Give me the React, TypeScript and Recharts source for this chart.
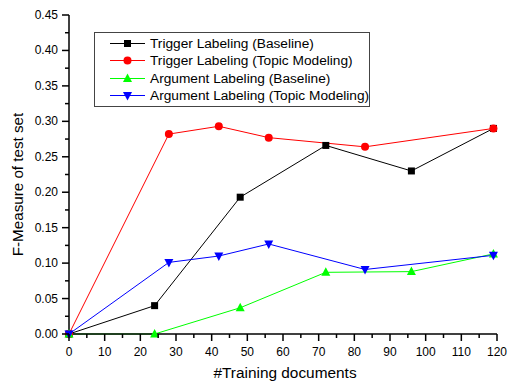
import React from "react";
import { LineChart, Line, XAxis, YAxis } from "recharts";

const baselineDocs = [0, 24, 48, 72, 96, 119];
const topicDocs = [0, 28, 42, 56, 83, 119];
const triggerBaseline = [0, 0.04, 0.193, 0.266, 0.23, 0.29];
const triggerTopic = [0, 0.282, 0.293, 0.277, 0.264, 0.29];
const argumentBaseline = [0, 0, 0.037, 0.087, 0.088, 0.113];
const argumentTopic = [0, 0.101, 0.11, 0.127, 0.091, 0.111];

const xTicks = [0, 5, 10, 15, 20, 25, 30, 35, 40, 45, 50, 55, 60, 65, 70, 75, 80, 85, 90, 95, 100, 105, 110, 115, 120];
const yTicks = [0, 0.025, 0.05, 0.075, 0.1, 0.125, 0.15, 0.175, 0.2, 0.225, 0.25, 0.275, 0.3, 0.325, 0.35, 0.375, 0.4, 0.425, 0.45];

const FONT = "'Liberation Sans', Arial, sans-serif";

const toPoints = (xs: number[], ys: number[]) => xs.map((x, i) => ({ x, y: ys[i] }));

type Shape = "square" | "circle" | "up" | "down";

const series: { name: string; color: string; shape: Shape; data: { x: number; y: number }[] }[] = [
  { name: "Trigger Labeling (Baseline)", color: "#000000", shape: "square", data: toPoints(baselineDocs, triggerBaseline) },
  { name: "Trigger Labeling (Topic Modeling)", color: "#ff0000", shape: "circle", data: toPoints(topicDocs, triggerTopic) },
  { name: "Argument Labeling (Baseline)", color: "#00ff00", shape: "up", data: toPoints(baselineDocs, argumentBaseline) },
  { name: "Argument Labeling (Topic Modeling)", color: "#0000ff", shape: "down", data: toPoints(topicDocs, argumentTopic) },
];

function marker(shape: Shape, cx: number, cy: number, color: string, key?: any) {
  if (shape === "square") return <rect key={key} x={cx - 3.5} y={cy - 3.5} width={7} height={7} fill={color} />;
  if (shape === "circle") return <circle key={key} cx={cx} cy={cy} r={4} fill={color} />;
  if (shape === "up")
    return <polygon key={key} points={`${cx},${cy - 5} ${cx - 4.5},${cy + 3.5} ${cx + 4.5},${cy + 3.5}`} fill={color} />;
  return <polygon key={key} points={`${cx},${cy + 5} ${cx - 4.5},${cy - 3.5} ${cx + 4.5},${cy - 3.5}`} fill={color} />;
}

const XTick = (props: any) => {
  const { x, y, payload } = props;
  const v = payload.value;
  const major = Math.round(v) % 10 === 0;
  return (
    <g>
      <line x1={x} y1={y} x2={x} y2={y + (major ? 7 : 4)} stroke="#000" strokeWidth={1.5} />
      {major && (
        <text x={x} y={y + 22} textAnchor="middle" fontSize={12} fontFamily={FONT} fill="#000">
          {v}
        </text>
      )}
    </g>
  );
};

const YTick = (props: any) => {
  const { x, y, payload } = props;
  const v = payload.value;
  const major = Math.round(v * 1000) % 50 === 0;
  return (
    <g>
      <line x1={x} y1={y} x2={x - (major ? 7 : 4)} y2={y} stroke="#000" strokeWidth={1.5} />
      {major && (
        <text x={x - 11} y={y + 4} textAnchor="end" fontSize={12} fontFamily={FONT} fill="#000">
          {v.toFixed(2)}
        </text>
      )}
    </g>
  );
};

const LegendBox = () => (
  <div
    style={{
      position: "absolute",
      left: 94,
      top: 32,
      width: 276,
      height: 75,
      boxSizing: "border-box",
      border: "1px solid #444",
      background: "#fff",
      paddingTop: 2,
      paddingLeft: 15,
      fontFamily: FONT,
      fontSize: 13.7,
      color: "#000",
      whiteSpace: "nowrap",
    }}
  >
    {series.map((s) => (
      <div key={s.name} style={{ height: 17.3, display: "flex", alignItems: "center" }}>
        <svg width={35} height={17} style={{ flex: "none" }}>
          <line x1={0} y1={8.5} x2={35} y2={8.5} stroke={s.color} strokeWidth={1} />
          {marker(s.shape, 17.5, 8.5, s.color)}
        </svg>
        <span style={{ marginLeft: 5, lineHeight: "17px" }}>{s.name}</span>
      </div>
    ))}
  </div>
);

export default function App() {
  return (
    <div style={{ position: "absolute", left: 0, top: 0, width: 511, height: 381, background: "#fff" }}>
      <LineChart width={511} height={381} margin={{ top: 15, right: 14, bottom: 0, left: 0 }}>
        <XAxis
          type="number"
          dataKey="x"
          domain={[0, 120]}
          ticks={xTicks}
          interval={0}
          height={47}
          tickSize={0}
          tickMargin={0}
          tickLine={false}
          tick={<XTick />}
          axisLine={{ stroke: "#000", strokeWidth: 1.5 }}
          allowDuplicatedCategory={false}
          label={{
            content: (p: any) => {
              const vb = p.viewBox;
              return (
                <text x={vb.x + vb.width / 2 + 2} y={vb.y + 44} textAnchor="middle" fontSize={15.4} fontFamily={FONT} fill="#000">
                  #Training documents
                </text>
              );
            },
          }}
        />
        <YAxis
          type="number"
          dataKey="y"
          domain={[0, 0.45]}
          ticks={yTicks}
          interval={0}
          width={69}
          tickSize={0}
          tickMargin={0}
          tickLine={false}
          tick={<YTick />}
          axisLine={{ stroke: "#000", strokeWidth: 1.5 }}
          label={{
            content: (p: any) => {
              const vb = p.viewBox;
              const cx = 23;
              const cy = vb.y + vb.height / 2 + 10;
              return (
                <text x={cx} y={cy} transform={`rotate(-90 ${cx} ${cy})`} textAnchor="middle" fontSize={15.2} fontFamily={FONT} fill="#000">
                  F-Measure of test set
                </text>
              );
            },
          }}
        />
        {series.map((s) => (
          <Line
            key={s.name}
            name={s.name}
            data={s.data}
            dataKey="y"
            type="linear"
            stroke={s.color}
            strokeWidth={1}
            isAnimationActive={false}
            dot={(p: any) => marker(s.shape, p.cx, p.cy, s.color, `${s.name}-${p.index}`)}
            activeDot={false}
          />
        ))}
      </LineChart>
      <LegendBox />
    </div>
  );
}
